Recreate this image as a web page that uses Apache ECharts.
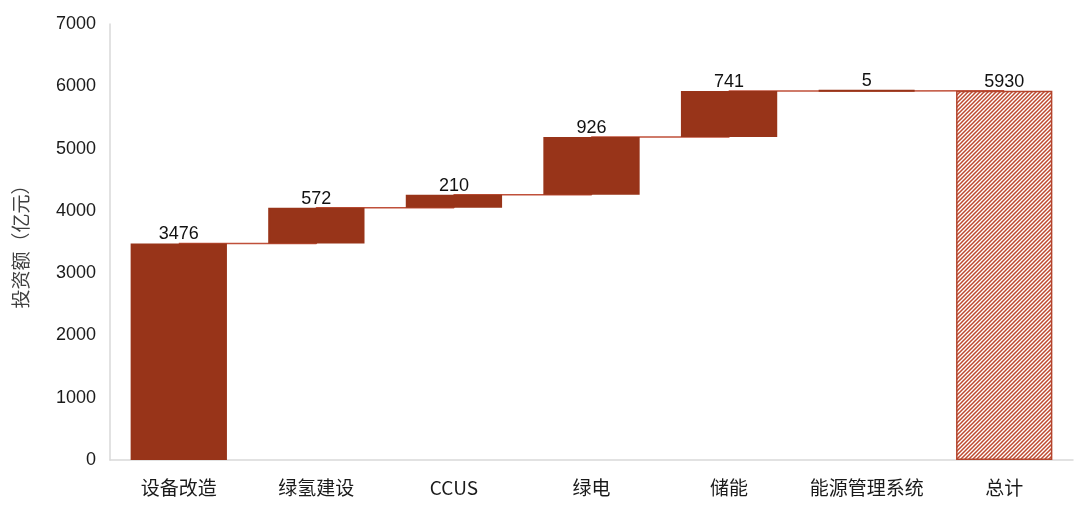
<!DOCTYPE html>
<html>
<head>
<meta charset="utf-8">
<title>投资额瀑布图</title>
<script src="https://cdn.jsdelivr.net/npm/echarts@6/dist/echarts.min.js"></script>
<style>
  html, body { margin: 0; padding: 0; background: #fff; }
  #main { width: 1080px; height: 508px; }
</style>
</head>
<body>
<div id="main"></div>
<script>
// 分类与数值
const categories = ['设备改造', '绿氢建设', 'CCUS', '绿电', '储能', '能源管理系统', '总计']
const increments = [3476, 572, 210, 926, 741, 5]
const total = 5930
const yTicks = { min: 0, max: 7000, interval: 1000 }

const barColor = '#983419'
const lineColor = '#c0503a'
const font = "'Noto Sans CJK SC', 'Liberation Sans', sans-serif"
const numFont = "'Liberation Sans', sans-serif"

// 透明底座 = 前面各项的累计
let base = []
let cum = []
let sum = 0
increments.forEach(v => {
  base.push(sum)
  sum += v
  cum.push(sum)
})
base.push(0)
cum.push(total)

// 总计柱的斜线填充
function hatch() {
  const s = 4
  const c = document.createElement('canvas')
  c.width = s
  c.height = s
  const ctx = c.getContext('2d')
  ctx.fillStyle = '#fff'
  ctx.fillRect(0, 0, s, s)
  ctx.strokeStyle = '#bd4a30'
  ctx.lineWidth = 1.5
  ctx.beginPath()
  ctx.moveTo(0, s); ctx.lineTo(s, 0)
  ctx.moveTo(-1, 1); ctx.lineTo(1, -1)
  ctx.moveTo(s - 1, s + 1); ctx.lineTo(s + 1, s - 1)
  ctx.stroke()
  return c
}

const deltaData = increments.map(v => v)
deltaData.push({
  value: total,
  itemStyle: {
    color: { image: hatch(), repeat: 'repeat' },
    borderColor: '#b4452d',
    borderWidth: 1.5
  }
})

const chart = echarts.init(document.getElementById('main'))
const option = {
  animation: false,
  grid: { left: 110, right: 7, top: 24, bottom: 48 },
  xAxis: {
    type: 'category',
    data: categories,
    axisTick: { show: false },
    axisLine: { show: true, lineStyle: { color: '#d9d9d9', width: 1.5 } },
    axisLabel: { color: '#1a1a1a', fontSize: 19, margin: 18, interval: 0, fontFamily: font }
  },
  yAxis: {
    type: 'value',
    min: yTicks.min,
    max: yTicks.max,
    interval: yTicks.interval,
    name: '投资额（亿元）',
    nameLocation: 'middle',
    nameGap: 80,
    nameTextStyle: { color: '#404040', fontSize: 19, fontFamily: font },
    axisLine: { show: true, lineStyle: { color: '#d9d9d9', width: 1.5 } },
    axisTick: { show: false },
    splitLine: { show: false },
    axisLabel: {
      color: '#1a1a1a',
      fontSize: 18,
      margin: 14,
      fontFamily: numFont,
      formatter: v => String(v)
    }
  },
  series: [
    {
      // 连接线
      type: 'line',
      step: 'end',
      data: cum,
      symbol: 'none',
      z: 1,
      lineStyle: { color: lineColor, width: 1.5 },
      silent: true
    },
    {
      type: 'bar',
      stack: 'w',
      data: base,
      barWidth: '70%',
      itemStyle: { color: 'transparent' },
      silent: true,
      z: 3
    },
    {
      type: 'bar',
      stack: 'w',
      data: deltaData,
      barWidth: '70%',
      z: 3,
      itemStyle: { color: barColor, borderColor: barColor, borderWidth: 2 },
      label: {
        show: true,
        position: 'top',
        distance: 0,
        color: '#111',
        fontSize: 18,
        fontFamily: numFont
      }
    }
  ]
}
chart.setOption(option)
</script>
</body>
</html>
